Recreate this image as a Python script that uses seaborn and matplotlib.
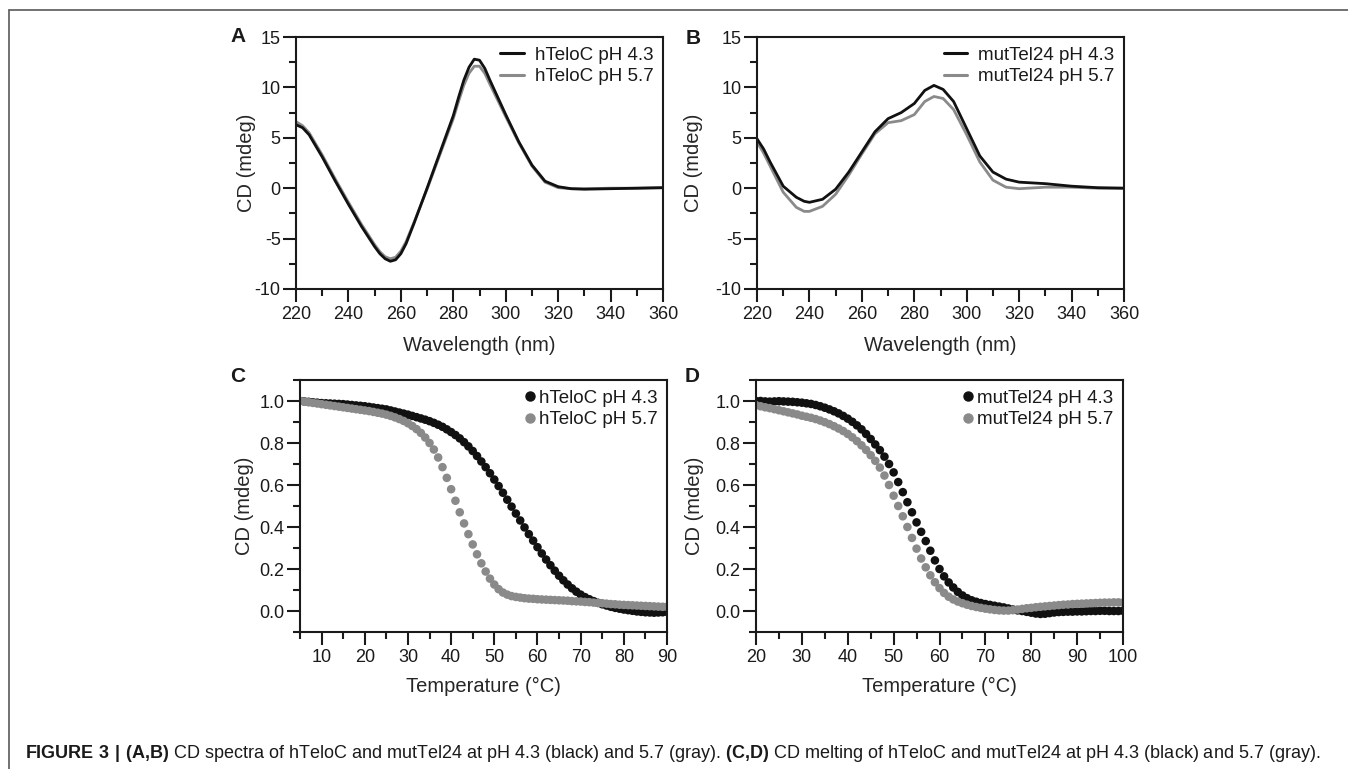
import numpy as np
import pandas as pd
import matplotlib
matplotlib.use("Agg")
import matplotlib.pyplot as plt
from matplotlib.lines import Line2D
from matplotlib.ticker import MultipleLocator
import seaborn as sns

# ---- dados ----
# (A) espectros CD hTeloC
wl_a = [220, 222.5, 225, 230, 235, 240, 245, 250, 252, 254, 256, 258, 260, 262, 265, 270, 275, 280,
        282, 284, 286, 288, 290, 292, 294, 297, 300, 305, 310, 315, 320, 325, 330, 340, 350, 360]
hteloc_43 = [6.3, 6.0, 5.3, 3.1, 0.7, -1.6, -3.8, -5.8, -6.5, -7.0, -7.25, -7.1, -6.5, -5.5, -3.5, 0.0,
             3.6, 7.2, 9.0, 10.7, 12.0, 12.8, 12.7, 11.9, 10.7, 9.0, 7.3, 4.6, 2.3, 0.7, 0.15, -0.05,
             -0.1, -0.05, 0.0, 0.05]
hteloc_57 = [6.6, 6.2, 5.5, 3.3, 0.9, -1.4, -3.6, -5.6, -6.3, -6.8, -7.0, -6.85, -6.25, -5.3, -3.4, -0.1,
             3.4, 6.9, 8.6, 10.2, 11.4, 12.1, 12.1, 11.4, 10.3, 8.7, 7.1, 4.5, 2.2, 0.6, 0.05, -0.05,
             -0.05, 0.0, 0.0, 0.05]

# (B) espectros CD mutTel24
wl_b = [220, 222.5, 225, 230, 235, 238, 240, 245, 250, 255, 260, 265, 270, 275, 280, 284, 287.5,
        291, 295, 300, 305, 310, 315, 320, 330, 340, 350, 360]
muttel_43 = [4.9, 3.9, 2.6, 0.2, -0.9, -1.3, -1.4, -1.1, -0.1, 1.6, 3.6, 5.6, 6.9, 7.5, 8.4, 9.7, 10.2,
             9.8, 8.6, 5.9, 3.2, 1.6, 0.9, 0.6, 0.45, 0.2, 0.05, 0.0]
muttel_57 = [4.6, 3.5, 2.2, -0.4, -1.9, -2.3, -2.3, -1.8, -0.6, 1.3, 3.4, 5.4, 6.5, 6.7, 7.3, 8.6, 9.1,
             8.9, 7.8, 5.3, 2.6, 0.8, 0.1, -0.05, 0.1, 0.1, 0.0, 0.0]

# (C) fusao hTeloC, 5-90 C
temp_c = list(range(5, 91))
melt_hteloc_43 = [1.000, 0.998, 0.996, 0.994, 0.992, 0.990, 0.989, 0.988, 0.987, 0.986,
                  0.985, 0.983, 0.981, 0.979, 0.977, 0.975, 0.972, 0.969, 0.966, 0.963,
                  0.960, 0.955, 0.950, 0.945, 0.940, 0.935, 0.929, 0.923, 0.917, 0.911,
                  0.904, 0.896, 0.887, 0.877, 0.865, 0.852, 0.838, 0.822, 0.804, 0.784,
                  0.762, 0.738, 0.712, 0.685, 0.656, 0.626, 0.595, 0.563, 0.530, 0.497,
                  0.464, 0.431, 0.398, 0.366, 0.335, 0.304, 0.274, 0.245, 0.218, 0.192,
                  0.168, 0.146, 0.126, 0.108, 0.092, 0.078, 0.066, 0.056, 0.047, 0.039,
                  0.032, 0.026, 0.020, 0.015, 0.011, 0.007, 0.004, 0.001, -0.002, -0.004,
                  -0.006, -0.007, -0.008, -0.007, -0.006, -0.004]
melt_hteloc_57 = [1.000, 0.997, 0.994, 0.991, 0.988, 0.985, 0.982, 0.979, 0.976, 0.973,
                  0.970, 0.967, 0.964, 0.961, 0.958, 0.955, 0.952, 0.948, 0.944, 0.940,
                  0.935, 0.929, 0.922, 0.914, 0.905, 0.894, 0.881, 0.866, 0.848, 0.826,
                  0.800, 0.769, 0.731, 0.685, 0.634, 0.580, 0.525, 0.470, 0.417, 0.366,
                  0.317, 0.270, 0.227, 0.188, 0.154, 0.126, 0.104, 0.088, 0.078, 0.071,
                  0.067, 0.064, 0.061, 0.059, 0.058, 0.056, 0.055, 0.054, 0.053, 0.052,
                  0.051, 0.050, 0.049, 0.047, 0.046, 0.045, 0.043, 0.042, 0.040, 0.038,
                  0.037, 0.035, 0.033, 0.032, 0.030, 0.029, 0.028, 0.027, 0.026, 0.025,
                  0.024, 0.023, 0.022, 0.021, 0.020, 0.020]

# (D) fusao mutTel24, 20-100 C
temp_d = list(range(20, 101))
melt_muttel_43 = [1.000, 1.000, 0.998, 0.997, 0.998, 0.999, 0.998, 0.997, 0.996, 0.994,
                  0.992, 0.989, 0.986, 0.981, 0.975, 0.968, 0.960, 0.951, 0.941, 0.929,
                  0.916, 0.901, 0.884, 0.865, 0.843, 0.819, 0.793, 0.766, 0.735, 0.700,
                  0.660, 0.614, 0.566, 0.518, 0.470, 0.422, 0.377, 0.333, 0.287, 0.241,
                  0.200, 0.165, 0.136, 0.112, 0.091, 0.074, 0.061, 0.051, 0.044, 0.038,
                  0.033, 0.029, 0.025, 0.021, 0.017, 0.012, 0.007, 0.003, 0.000, -0.004,
                  -0.008, -0.012, -0.014, -0.013, -0.010, -0.007, -0.005, -0.004, -0.003, -0.003,
                  -0.002, -0.002, -0.001, 0.000, 0.000, 0.001, 0.001, 0.000, 0.000, 0.000, 0.001]
melt_muttel_57 = [0.980, 0.975, 0.970, 0.966, 0.961, 0.956, 0.951, 0.946, 0.941, 0.936,
                  0.930, 0.925, 0.920, 0.914, 0.907, 0.899, 0.890, 0.880, 0.869, 0.857,
                  0.843, 0.827, 0.809, 0.789, 0.767, 0.742, 0.715, 0.683, 0.645, 0.600,
                  0.549, 0.500, 0.451, 0.400, 0.348, 0.297, 0.250, 0.208, 0.170, 0.137,
                  0.109, 0.086, 0.068, 0.055, 0.045, 0.037, 0.030, 0.024, 0.019, 0.015,
                  0.011, 0.008, 0.005, 0.003, 0.002, 0.002, 0.004, 0.007, 0.010, 0.013,
                  0.015, 0.018, 0.020, 0.022, 0.024, 0.026, 0.028, 0.030, 0.031, 0.033,
                  0.034, 0.035, 0.036, 0.037, 0.038, 0.039, 0.040, 0.040, 0.041, 0.041, 0.040]

PRETO = '#111111'
CINZA = '#8a8a8a'

# ---- estilo ----
sns.set_style('ticks')
plt.rcParams['font.family'] = ['Liberation Sans', 'DejaVu Sans']
plt.rcParams['mathtext.fontset'] = 'custom'
plt.rcParams['mathtext.rm'] = 'Liberation Sans'
plt.rcParams['mathtext.bf'] = 'Liberation Sans:bold'
plt.rcParams['axes.linewidth'] = 1.5
plt.rcParams['axes.unicode_minus'] = False
plt.rcParams['text.color'] = '#1a1a1a'

W, H = 1348, 769
fig = plt.figure(figsize=(W / 100, H / 100), dpi=100)


def eixo(x0, y0, x1, y1):
    # posicao em pixels -> fracao da figura
    return fig.add_axes([x0 / W, 1 - y1 / H, (x1 - x0) / W, (y1 - y0) / H])


axA = eixo(296, 37, 663, 289)
axB = eixo(757, 37, 1124, 289)
axC = eixo(300, 380, 667, 632)
axD = eixo(756, 380, 1123, 632)


def df_long(x, series, xname):
    partes = []
    for nome, vals in series:
        partes.append(pd.DataFrame({xname: x, 'CD': vals, 'amostra': nome}))
    return pd.concat(partes, ignore_index=True)


# espectros
for ax, wl, s43, s57, nome in [(axA, wl_a, hteloc_43, hteloc_57, 'hTeloC'),
                               (axB, wl_b, muttel_43, muttel_57, 'mutTel24')]:
    lab43, lab57 = nome + ' pH 4.3', nome + ' pH 5.7'
    dados = df_long(wl, [(lab43, s43), (lab57, s57)], 'wl')
    sns.lineplot(data=dados, x='wl', y='CD', hue='amostra', hue_order=[lab57, lab43],
                 palette={lab43: PRETO, lab57: CINZA}, linewidth=2.0, ax=ax, legend=False)
    ax.set_xlim(220, 360)
    ax.set_ylim(-10, 15)
    ax.xaxis.set_major_locator(MultipleLocator(20))
    ax.xaxis.set_minor_locator(MultipleLocator(10))
    ax.yaxis.set_major_locator(MultipleLocator(5))
    ax.yaxis.set_minor_locator(MultipleLocator(2.5))
    ax.set_xlabel('Wavelength (nm)', fontsize=14.5)
    ax.xaxis.set_label_coords(0.5, -0.187)
    handles = [Line2D([], [], color=PRETO, lw=2.2), Line2D([], [], color=CINZA, lw=2.2)]
    ax.legend(handles, [lab43, lab57], loc='upper right', frameon=False, fontsize=13.5,
              handlelength=1.25, handletextpad=0.6, borderaxespad=0.2, labelspacing=0.25,
              borderpad=0.3)

# fusao
for ax, temp, s43, s57, nome in [(axC, temp_c, melt_hteloc_43, melt_hteloc_57, 'hTeloC'),
                                 (axD, temp_d, melt_muttel_43, melt_muttel_57, 'mutTel24')]:
    lab43, lab57 = nome + ' pH 4.3', nome + ' pH 5.7'
    dados = df_long(temp, [(lab43, s43), (lab57, s57)], 'temp')
    sns.scatterplot(data=dados, x='temp', y='CD', hue='amostra', hue_order=[lab43, lab57],
                    palette={lab43: PRETO, lab57: CINZA}, s=38, linewidth=0, ax=ax, legend=False)
    ax.set_ylim(-0.1, 1.1)
    ax.xaxis.set_major_locator(MultipleLocator(10))
    ax.xaxis.set_minor_locator(MultipleLocator(5))
    ax.yaxis.set_minor_locator(MultipleLocator(0.1))
    ax.set_yticks([0.0, 0.2, 0.4, 0.6, 0.8, 1.0])
    ax.set_yticklabels(['0.0', '0.2', '0.4', '0.6', '0.8', '1.0'])
    ax.set_xlabel('Temperature (°C)', fontsize=14.5)
    ax.xaxis.set_label_coords(0.5, -0.179)
    handles = [Line2D([], [], color=PRETO, marker='o', ls='', ms=6.5),
               Line2D([], [], color=CINZA, marker='o', ls='', ms=6.5)]
    ax.legend(handles, [lab43, lab57], loc='upper right', frameon=False, fontsize=13.5,
              handlelength=0.5, handletextpad=0.25, borderaxespad=0.2, labelspacing=0.25,
              borderpad=0.3)

axC.set_xlim(5, 90)
axC.set_xticks([10, 20, 30, 40, 50, 60, 70, 80, 90])
axD.set_xlim(20, 100)

for ax, xl in [(axA, -0.108), (axB, -0.146), (axC, -0.124), (axD, -0.143)]:
    ax.set_ylabel('CD (mdeg)', fontsize=14.5)
    ax.yaxis.set_label_coords(xl, 0.5)
    ax.tick_params(which='major', direction='out', length=9.5, width=1.5, labelsize=13,
                   colors='#1a1a1a', pad=3)
    ax.tick_params(which='minor', direction='out', length=5, width=1.5, colors='#1a1a1a')
    ax.tick_params(axis='y', which='major', pad=1.5)
    for sp in ax.spines.values():
        sp.set_visible(True)
        sp.set_color('#1a1a1a')

# letras dos paineis
for letra, px, py in [('A', 238, 37), ('B', 693, 38), ('C', 238, 377), ('D', 692, 377)]:
    fig.text(px / W, 1 - py / H, letra, fontsize=15, fontweight='bold', ha='center', va='center')

# moldura da figura
fig.add_artist(Line2D([9 / W, 9 / W], [0, 1 - 10 / H], transform=fig.transFigure,
                      color='#666666', lw=1.3))
fig.add_artist(Line2D([9 / W, 1], [1 - 10 / H, 1 - 10 / H], transform=fig.transFigure,
                      color='#666666', lw=1.3))

# legenda da figura
legenda = (r'$\mathbf{FIGURE\ 3\ |\ (A{,}B)}$ CD spectra of hTeloC and mutTel24 at pH 4.3 (black) '
           r'and 5.7 (gray). $\mathbf{(C{,}D)}$ CD melting of hTeloC and mutTel24 at pH 4.3 (black) '
           r'and 5.7 (gray).')
fig.text(25 / W, 1 - 753 / H, legenda, fontsize=13, ha='left', va='center')

fig.savefig('out.png', dpi=100)
